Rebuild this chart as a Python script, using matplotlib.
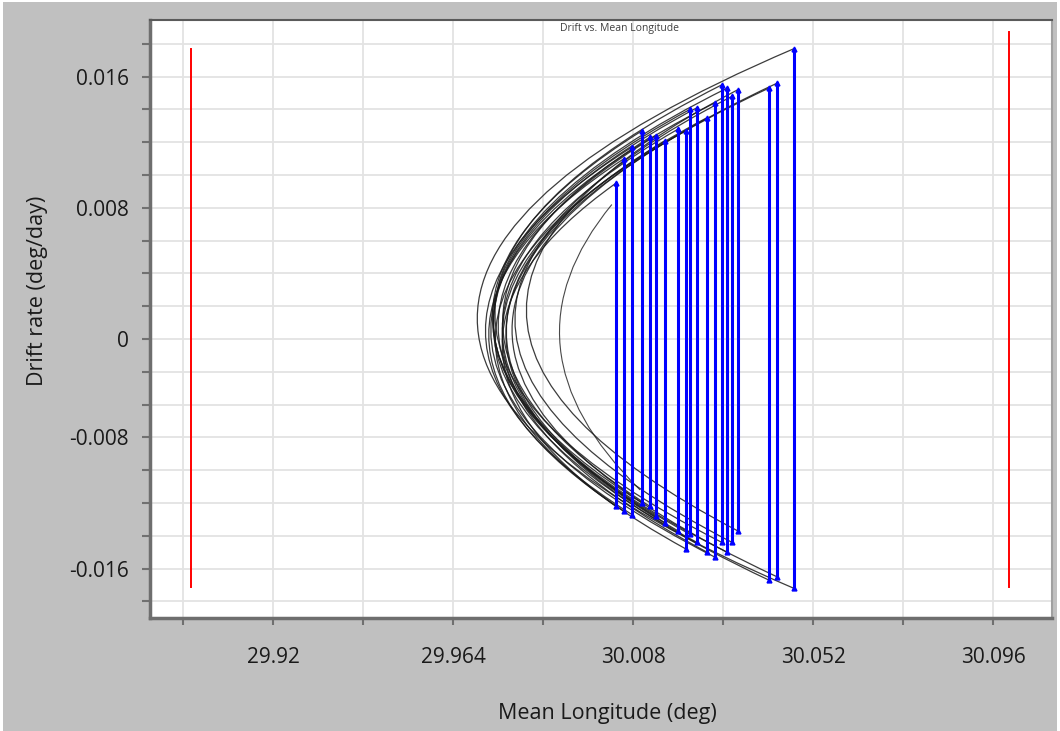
import numpy as np
import matplotlib
matplotlib.use("Agg")
import matplotlib.pyplot as plt
from matplotlib.path import Path
from matplotlib.patches import PathPatch, Rectangle

# ---------------- data ----------------
maneuver_lon = [30.0038, 30.0058, 30.0077, 30.0102, 30.0121, 30.0136, 30.0158,
                30.0190, 30.0209, 30.0219, 30.0236, 30.0261, 30.0280, 30.0297,
                30.0310, 30.0322, 30.0336, 30.0412, 30.0432, 30.0473]
drift_after = [0.0095, 0.0110, 0.0117, 0.0127, 0.0123, 0.0124, 0.0121,
               0.0128, 0.0127, 0.0140, 0.0141, 0.0135, 0.0144, 0.0155,
               0.0153, 0.0148, 0.0152, 0.0153, 0.0156, 0.0177]
drift_before = [-0.0102, -0.0105, -0.0107, -0.0100, -0.0102, -0.0108, -0.0112,
                -0.0117, -0.0128, -0.0119, -0.0124, -0.0130, -0.0133, -0.0124,
                -0.0130, -0.0124, -0.0117, -0.0147, -0.0145, -0.0152]
arc_min_lon = [29.9760, 29.9727, 29.9719, 29.9736, 29.9761, 29.9750, 29.9770,
               29.9760, 29.9743, 29.9739, 29.9738, 29.9760, 29.9732, 29.9742,
               29.9738, 29.9791, 29.9819, 29.9769, 29.9784, 29.9699]

inner_arc_start = (30.0028, 0.0082)
inner_arc_end = (30.0097, -0.0092)
inner_arc_min_lon = 29.9900

limit_lon = [29.90, 30.10]
limit_top = [0.0177, 0.0187]
limit_bottom = [-0.0151, -0.0151]

xtick_values = [29.898, 29.92, 29.942, 29.964, 29.986, 30.008, 30.030, 30.052, 30.074, 30.096]
xtick_labels = ["", "29.92", "", "29.964", "", "30.008", "", "30.052", "", "30.096"]
ytick_values = [0.018, 0.016, 0.014, 0.012, 0.010, 0.008, 0.006, 0.004, 0.002, 0.0,
                -0.002, -0.004, -0.006, -0.008, -0.010, -0.012, -0.014, -0.016]
ytick_labels = ["", "0.016", "", "", "", "0.008", "", "", "", "0",
                "", "", "-0.008", "", "", "", "-0.016", ""]

title = "Drift vs. Mean Longitude"
xlabel = "Mean Longitude (deg)"
ylabel = "Drift rate (deg/day)"

# ---------------- figure ----------------
plt.rcParams['font.family'] = ['Open Sans', 'DejaVu Sans']
W, H = 1060, 731
fig = plt.figure(figsize=(W / 100, H / 100), dpi=100)
fig.patch.set_facecolor('white')
fig.patches.append(Rectangle((3 / W, 0), (W - 6) / W, (H - 2) / H,
                             transform=fig.transFigure, facecolor='#c0c0c0',
                             edgecolor='none', zorder=-10))

ax = fig.add_axes([150 / W, 1 - 618 / H, (1052 - 150) / W, (618 - 20) / H])
ax.set_facecolor('white')
ax.set_xlim(29.8899, 30.1104)
ax.set_ylim(-0.01701, 0.01945)

ax.set_xticks(xtick_values)
ax.set_xticklabels(xtick_labels)
ax.set_yticks(ytick_values)
ax.set_yticklabels(ytick_labels)
ax.grid(True, color='#e3e3e3', linewidth=1.3, zorder=0)
ax.set_axisbelow(True)

ax.tick_params(axis='y', direction='out', length=6, width=1.5, color='#707070',
               labelsize=15, labelcolor='#1a1a1a', pad=9)
ax.tick_params(axis='x', direction='out', length=5, width=1.5, color='#707070',
               labelsize=15, labelcolor='#1a1a1a', pad=16)

for side in ['left', 'bottom']:
    ax.spines[side].set_color('#6e6e6e')
    ax.spines[side].set_linewidth(2.5)
ax.spines['top'].set_color('#5a5a5a')
ax.spines['top'].set_linewidth(1.5)
ax.spines['right'].set_color('#a0a0a0')
ax.spines['right'].set_linewidth(1.5)


def parabola_patch(x0, y0, x1, y1, xv, **kw):
    a = x0 - xv
    b = x1 - xv
    sk = (np.sqrt(a) + np.sqrt(b)) / (y0 - y1)
    k = sk ** 2
    yv = y0 - np.sqrt(a) / sk
    cx = x0 - k * (y0 - yv) * (y0 - y1)
    cy = (y0 + y1) / 2
    path = Path([(x0, y0), (cx, cy), (x1, y1)],
                [Path.MOVETO, Path.CURVE3, Path.CURVE3])
    return PathPatch(path, facecolor='none', **kw)


# drift arcs
for lon, top, bot, xv in zip(maneuver_lon, drift_after, drift_before, arc_min_lon):
    ax.add_patch(parabola_patch(lon, top, lon, bot, xv, edgecolor='#1a1a1a',
                                linewidth=0.9, alpha=0.85, zorder=2))
ax.add_patch(parabola_patch(inner_arc_start[0], inner_arc_start[1],
                            inner_arc_end[0], inner_arc_end[1], inner_arc_min_lon,
                            edgecolor='#1a1a1a', linewidth=0.8, alpha=0.8, zorder=2))

# maneuvers
for lon, top, bot in zip(maneuver_lon, drift_after, drift_before):
    ax.plot([lon, lon], [bot, top], color='#0000ff', linewidth=2.2,
            marker='^', markersize=3.5, zorder=3)

# longitude limits
for lon, top, bot in zip(limit_lon, limit_top, limit_bottom):
    ax.plot([lon, lon], [bot, top], color='#ff0000', linewidth=1.4, zorder=3)

fig.text(620 / W, 1 - 29 / H, title, fontsize=7.5, color='#404040',
         ha='center', va='center')
fig.text(607 / W, 1 - 713 / H, xlabel, fontsize=15.5, color='#1a1a1a',
         ha='center', va='center')
fig.text(38 / W, 1 - 291 / H, ylabel, fontsize=15.5, color='#1a1a1a',
         ha='center', va='center', rotation=90)

fig.savefig('out.png', dpi=100)
